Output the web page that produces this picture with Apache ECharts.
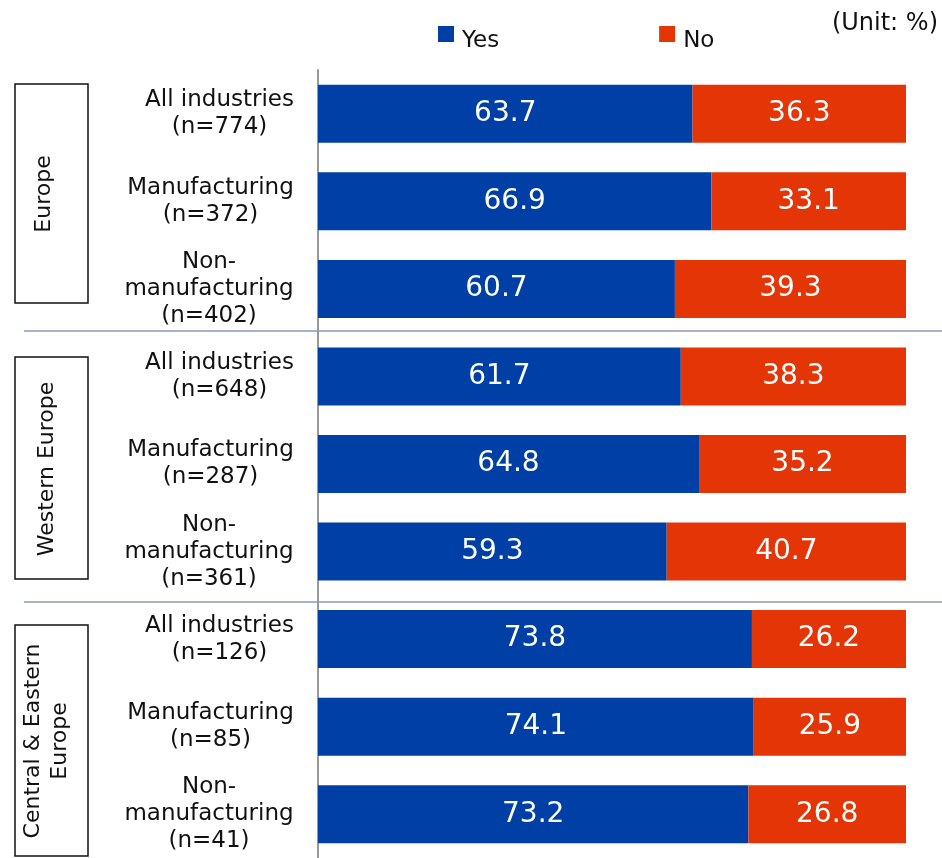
<!DOCTYPE html>
<html lang="en">

<head>
    <meta charset="UTF-8">
    <title>Yes / No by region and industry</title>
    <script src="https://cdn.jsdelivr.net/npm/echarts@6/dist/echarts.min.js"></script>
    <style>
        * {
            margin: 0;
            padding: 0
        }

        html,
        body {
            width: 100%;
            height: 100%;
            background: #fff;
        }

        #main {
            width: 942px;
            height: 858px;
        }
    </style>
</head>

<body>
    <div id="main"></div>
    <script type="text/javascript">
        // 数据
        var categories = [
            'All industries\n(n=774)', 'Manufacturing\n(n=372)', 'Non-\nmanufacturing\n(n=402)',
            'All industries\n(n=648)', 'Manufacturing\n(n=287)', 'Non-\nmanufacturing\n(n=361)',
            'All industries\n(n=126)', 'Manufacturing\n(n=85)', 'Non-\nmanufacturing\n(n=41)'
        ];
        var yesValues = [63.7, 66.9, 60.7, 61.7, 64.8, 59.3, 73.8, 74.1, 73.2];
        var noValues = [36.3, 33.1, 39.3, 38.3, 35.2, 40.7, 26.2, 25.9, 26.8];
        var groupNames = ['Europe', 'Western Europe', 'Central & Eastern\nEurope'];

        var font = '"DejaVu Sans", Verdana, sans-serif';
        var blue = '#0040A6';
        var red = '#E33506';
        var labelSize = 23;

        // 每个类目标签：各行居中，整体右对齐
        var ctx = document.createElement('canvas').getContext('2d');
        ctx.font = labelSize + 'px ' + font;
        var rich = {};
        categories.forEach(function (c, i) {
            var w = 0;
            c.split('\n').forEach(function (line) {
                w = Math.max(w, ctx.measureText(line).width);
            });
            rich['c' + i] = {
                width: Math.ceil(w),
                align: 'center',
                fontSize: labelSize,
                lineHeight: 27,
                color: '#111'
            };
        });

        var myChart = echarts.init(document.getElementById('main'));

        // 左侧分组框
        var boxes = [
            { y: 84, h: 219, tx: 44, ty: 194 },
            { y: 357, h: 222, tx: 47, ty: 469 },
            { y: 625, h: 231, tx: 47, ty: 741 }
        ];
        var graphics = [];
        boxes.forEach(function (b, i) {
            graphics.push({
                type: 'rect',
                shape: { x: 15, y: b.y, width: 73, height: b.h },
                style: { fill: '#fff', stroke: '#111', lineWidth: 1.5 }
            });
            graphics.push({
                type: 'text',
                x: b.tx,
                y: b.ty,
                rotation: Math.PI / 2,
                style: {
                    text: groupNames[i],
                    font: '22px ' + font,
                    fill: '#111',
                    align: 'center',
                    verticalAlign: 'middle',
                    lineHeight: 27
                }
            });
        });
        // 分隔线
        [331, 602].forEach(function (y) {
            graphics.push({
                type: 'line',
                shape: { x1: 24, y1: y, x2: 942, y2: y },
                style: { stroke: '#A7B4C8', lineWidth: 2 }
            });
        });
        graphics.push({
            type: 'text',
            right: 4,
            top: 12,
            style: { text: '(Unit: %)', font: '24px ' + font, fill: '#111' }
        });

        var option = {
            animation: false,
            textStyle: { fontFamily: font },
            legend: {
                left: 438,
                top: 26,
                padding: 0,
                itemWidth: 16,
                itemHeight: 31,
                itemGap: 160,
                // 方块放在图例项上部，文字略低于方块
                icon: 'path://M0 0H16V16H0Z M16 31',
                textStyle: { fontSize: 23, color: '#111', padding: [0, 0, 0, 3] },
                data: ['Yes', 'No']
            },
            grid: {
                left: 318,
                right: 36,
                top: 70,
                height: 796,
                containLabel: false
            },
            xAxis: {
                type: 'value',
                min: 0,
                max: 100,
                show: false
            },
            yAxis: {
                type: 'category',
                inverse: true,
                data: categories,
                axisLine: { lineStyle: { color: '#999', width: 2 } },
                axisTick: { show: false },
                axisLabel: {
                    margin: 24,
                    fontSize: labelSize,
                    lineHeight: 27,
                    color: '#111',
                    align: 'right',
                    rich: rich,
                    formatter: function (value, index) {
                        return value.split('\n').map(function (line) {
                            return '{c' + index + '|' + line + '}';
                        }).join('\n');
                    }
                }
            },
            series: [{
                    name: 'Yes',
                    type: 'bar',
                    stack: 'total',
                    barWidth: 58,
                    itemStyle: { color: blue },
                    label: { show: true, color: '#fff', fontSize: 28, formatter: function (p) { return p.value.toFixed(1) } },
                    data: yesValues
                },
                {
                    name: 'No',
                    type: 'bar',
                    stack: 'total',
                    barWidth: 58,
                    itemStyle: { color: red },
                    label: { show: true, color: '#fff', fontSize: 28, formatter: function (p) { return p.value.toFixed(1) } },
                    data: noValues
                }
            ],
            graphic: graphics
        };
        myChart.setOption(option);
    </script>
</body>

</html>
